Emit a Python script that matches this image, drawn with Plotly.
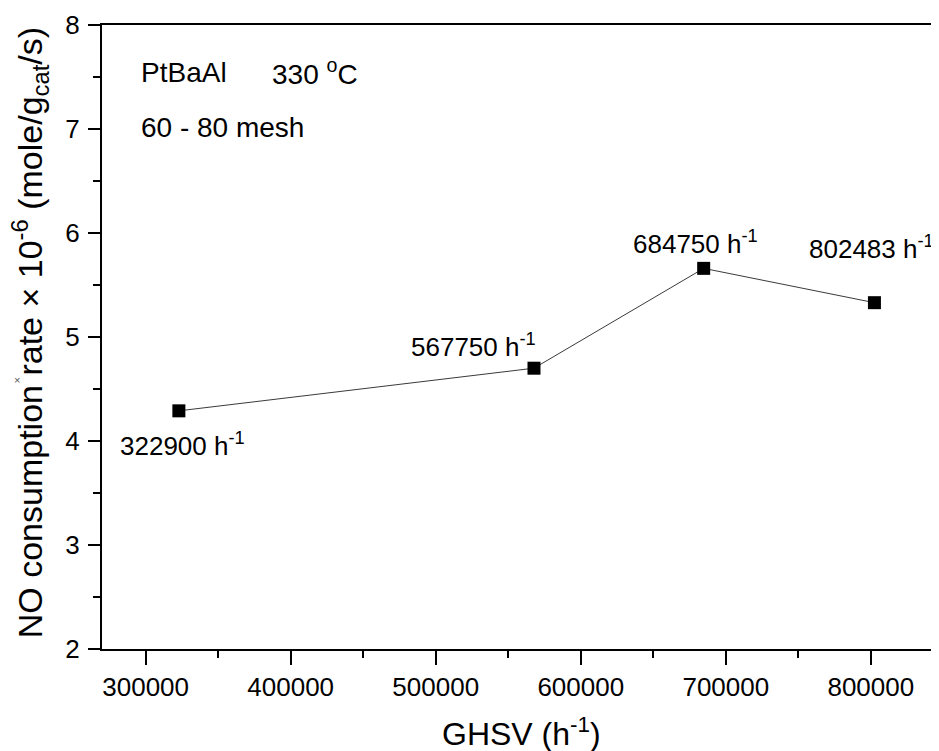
import plotly.graph_objects as go

ghsv = [322900, 567750, 684750, 802483]
rate = [4.29, 4.70, 5.66, 5.33]
point_labels = ["322900 h<sup>-1</sup>", "567750 h<sup>-1</sup>", "684750 h<sup>-1</sup>", "802483 h<sup>-1</sup>"]
label_shift_x = [4, -60, -8, -3]
label_shift_y = [-34, 23, 26, 55]

x_ticks = [300000, 400000, 500000, 600000, 700000, 800000]
y_ticks = [2, 3, 4, 5, 6, 7, 8]

FONT = "Arial, Liberation Sans, sans-serif"

fig = go.Figure()
fig.add_trace(go.Scatter(
    x=ghsv, y=rate, mode="lines+markers",
    line=dict(color="#3a3a3a", width=1),
    marker=dict(symbol="square", size=13, color="black"),
    showlegend=False, hoverinfo="skip",
))

annotations = []
for xv, yv, t, dx, dy in zip(ghsv, rate, point_labels, label_shift_x, label_shift_y):
    annotations.append(dict(x=xv, y=yv, xref="x", yref="y", text=t, showarrow=False,
                            xanchor="center", yanchor="middle", xshift=dx, yshift=dy,
                            font=dict(family=FONT, size=26, color="black")))

annotations += [
    dict(x=0.0442, y=0.924, xref="paper", yref="paper", text="PtBaAl", showarrow=False,
         xanchor="left", yanchor="middle", font=dict(family=FONT, size=28, color="black")),
    dict(x=0.2007, y=0.924, xref="paper", yref="paper", text="330 <sup>o</sup>C", showarrow=False,
         xanchor="left", yanchor="middle", font=dict(family=FONT, size=28, color="black")),
    dict(x=0.0442, y=0.8365, xref="paper", yref="paper", text="60 - 80 mesh", showarrow=False,
         xanchor="left", yanchor="middle", font=dict(family=FONT, size=28, color="black")),
    dict(x=0.5006, y=-0.1330, xref="paper", yref="paper", text="GHSV (h<sup>-1</sup>)", showarrow=False,
         xanchor="center", yanchor="middle", font=dict(family=FONT, size=32, color="black")),
    dict(x=-0.086, y=0.506, xref="paper", yref="paper",
         text="NO consumption rate × 10<sup>-6</sup> (mole/g<sub>cat</sub>/s)", showarrow=False,
         textangle=-90, xanchor="center", yanchor="middle",
         font=dict(family=FONT, size=34, color="black")),
    dict(x=-0.1016, y=0.431, xref="paper", yref="paper", text="×", showarrow=False,
         xanchor="center", yanchor="middle", font=dict(family=FONT, size=11, color="#555555")),
]

fig.update_layout(
    width=931, height=743,
    margin=dict(l=94, r=0, t=17, b=102),
    paper_bgcolor="white", plot_bgcolor="white",
    font=dict(family=FONT, size=26, color="black"),
    annotations=annotations,
    xaxis=dict(range=[269900, 847000], tickvals=x_ticks, ticktext=[str(v) for v in x_ticks],
               showline=True, linecolor="black", linewidth=2, mirror=True,
               ticks="outside", ticklen=14, tickwidth=2, tickcolor="black",
               minor=dict(dtick=50000, tick0=0, ticks="outside", ticklen=7, tickwidth=2, tickcolor="black"),
               showgrid=False, zeroline=False, tickfont=dict(family=FONT, size=26, color="black")),
    yaxis=dict(range=[2, 8], tickvals=y_ticks, ticktext=[str(v) for v in y_ticks],
               showline=True, linecolor="black", linewidth=2,
               ticks="outside", ticklen=12, tickwidth=2, tickcolor="black", ticklabelstandoff=3,
               minor=dict(dtick=0.5, tick0=0, ticks="outside", ticklen=7, tickwidth=2, tickcolor="black"),
               showgrid=False, zeroline=False, tickfont=dict(family=FONT, size=26, color="black")),
)

fig.write_html("out.html")
